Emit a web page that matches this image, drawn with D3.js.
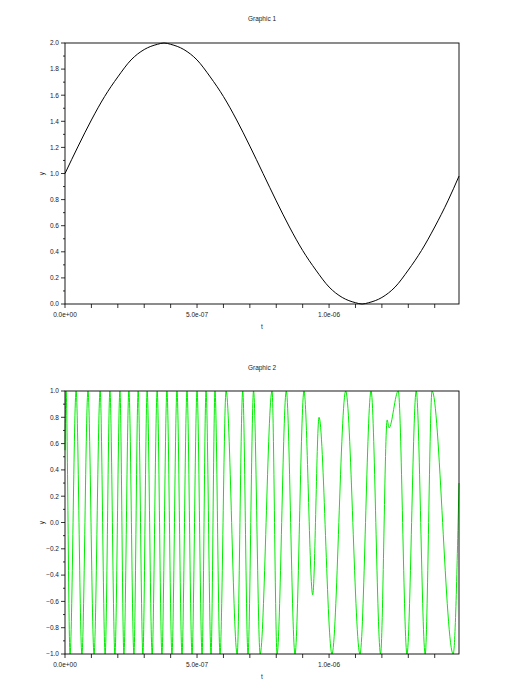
<!DOCTYPE html>
<html><head><meta charset="utf-8">
<script src="https://cdn.jsdelivr.net/npm/d3@7"></script>
<style>body{margin:0;background:#fff}text{font-family:"Liberation Sans",Arial,sans-serif;font-size:6.5px;fill:#222}</style>
</head><body><svg id="c" width="525" height="697"></svg>
<script>
// Graphic 1: time in units of 1e-7 s
const t1 = [0,0.5,1,1.5,2,2.5,3,3.5,3.75,4,4.5,5,5.5,6,6.5,7,7.5,8,8.5,9,9.5,10,10.5,11,11.25,11.5,12,12.5,13,13.5,14,14.5,14.92];
const y1 = [1.00,1.21,1.41,1.59,1.74,1.87,1.95,1.99,2.00,1.99,1.95,1.87,1.74,1.59,1.41,1.21,1.00,0.79,0.59,0.41,0.26,0.13,0.05,0.01,0.00,0.01,0.05,0.13,0.26,0.41,0.59,0.79,0.98];
// Graphic 2: extrema (time in 1e-7 s)
const t2 = [0,0.04,0.19,0.42,0.64,0.87,1.10,1.33,1.52,1.70,1.89,2.08,2.23,2.42,2.61,2.77,2.95,3.11,3.30,3.49,3.67,3.86,4.05,4.24,4.43,4.62,4.81,5.00,5.19,5.34,5.53,5.68,5.87,6.10,6.52,6.73,6.93,7.14,7.39,7.84,8.03,8.38,8.71,9.05,9.38,9.62,10.11,10.63,11.17,11.59,11.95,12.20,12.27,12.62,12.95,13.30,13.64,13.90,14.70,14.92];
const y2 = [0.55,1,-1,1,-1,1,-1,1,-1,1,-1,1,-1,1,-1,1,-1,1,-1,1,-1,1,-1,1,-1,1,-1,1,-1,1,-1,1,-1,1,-1,1,-1,1,-1,1,-1,1,-1,1,-0.55,0.8,-1,1,-1,1,-1,0.78,0.72,1,-1,1,-1,1,-1,0.3];
const xTicks = d3.range(0,15,1);
const xLabels = {0:"0.0e+00",5:"5.0e-07",10:"1.0e-06"};

const svg = d3.select("#c");
const x = d3.scaleLinear().domain([0,14.92]).range([65,459]);

function panel(top,bottom,yDom,yStep,title,t,yv,color,titleY){
  const y = d3.scaleLinear().domain(yDom).range([bottom,top]);
  const g = svg.append("g");
  g.append("text").attr("x",262).attr("y",titleY).attr("text-anchor","middle").text(title);
  const n = Math.round((yDom[1]-yDom[0])/yStep);
  for(let i=0;i<=2*n;i++){
    const v = yDom[0]+i*yStep/2;
    g.append("line").attr("x1",65).attr("x2",65-(i%2?2:4)).attr("y1",y(v)).attr("y2",y(v)).attr("stroke","#000").attr("stroke-width",0.8);
    if(i%2==0) g.append("text").attr("x",59).attr("y",y(v)+2.3).attr("text-anchor","end").text(v.toFixed(1).replace("-0.0","0.0").replace("-","−"));
  }
  xTicks.forEach(k=>{
    g.append("line").attr("x1",x(k)).attr("x2",x(k)).attr("y1",bottom).attr("y2",bottom+4).attr("stroke","#000").attr("stroke-width",0.8);
    if(xLabels[k]) g.append("text").attr("x",x(k)).attr("y",bottom+13).attr("text-anchor","middle").text(xLabels[k]);
  });
  g.append("text").attr("x",262).attr("y",bottom+25).attr("text-anchor","middle").text("t");
  g.append("text").attr("transform",`translate(44,${(top+bottom)/2}) rotate(-90)`).attr("text-anchor","middle").text("y");
  g.append("path").datum(t.map((d,i)=>[d,yv[i]]))
    .attr("d",d3.line().x(d=>x(d[0])).y(d=>y(d[1])).curve(d3.curveMonotoneX))
    .attr("fill","none").attr("stroke",color).attr("stroke-width",1);
  g.append("rect").attr("x",65).attr("y",top).attr("width",394).attr("height",bottom-top).attr("fill","none").attr("stroke","#000").attr("stroke-width",0.9);
}
panel(43,304,[0,2],0.2,"Graphic 1",t1,y1,"#000",21);
panel(391,654,[-1,1],0.2,"Graphic 2",t2,y2,"#00ee00",370);
</script></body></html>
